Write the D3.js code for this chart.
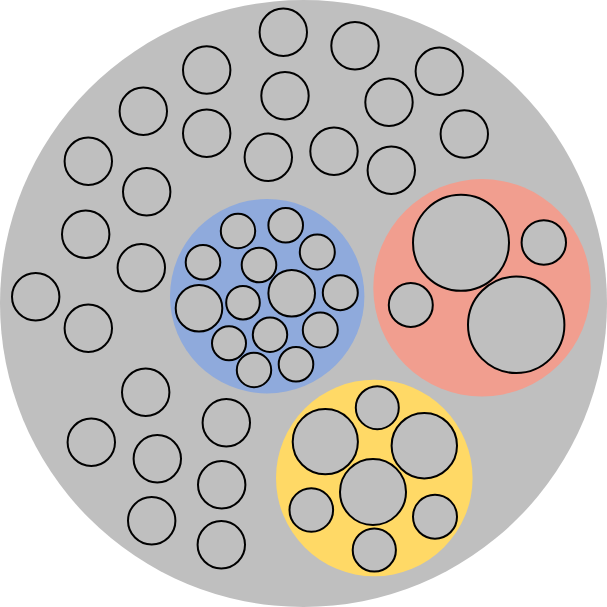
<!DOCTYPE html>
<html>
<head>
<meta charset="utf-8">
<script src="https://cdn.jsdelivr.net/npm/d3@7"></script>
<style>
html,body{margin:0;padding:0;background:#fff;}
svg{display:block;}
</style>
</head>
<body>
<script>
// Layout units (0..607 space of the original chart)
const rootCircle = {x: 303.5, y: 303.5, r: 303.5};

// Loose (ungrouped) items
const looseX = [283.3,355,206.7,439.3,285,143.3,389,206.7,464.3,88.3,334,268.3,391.3,146.7,85.7,141.3,35.7,88.3,145.7,226.3,91.3,157.3,221.7,151.7,221.3];
const looseY = [32.3,45.7,70,71.3,95.7,111.3,102.3,133.3,134,161.3,151.3,157.3,170.3,191.7,234.3,267.7,296.7,328.3,392.3,422.7,442.3,458.7,484.7,520.7,544.7];
const looseR = [23.7,23.7,23.7,23.7,23.7,23.7,23.7,23.7,23.7,23.7,23.7,23.7,23.7,23.7,23.7,23.7,23.7,23.7,23.7,23.7,23.7,23.7,23.7,23.7,23.7];

// Groups
const groupNames = ["blue", "red", "yellow"];
const groupColors = ["#8FAADC", "#F19E8F", "#FFD966"];
const groupX = [267.2, 482, 374.3];
const groupY = [296.2, 287.8, 478];
const groupR = [97.2, 108.7, 98.3];

// Group members
const blueX = [238,285.7,317.3,203,259,291.7,340.3,199,243,320.3,270,229,254,296];
const blueY = [231,225.3,252,262.3,265,293.3,292.7,308.3,302.7,330,334.7,343.3,370,364.3];
const blueR = [17.2,17.3,17.5,17.3,17.3,23.3,17.5,23.3,16.8,17.5,17.2,17,17.2,17.3];

const redX = [461,543.8,410.8,516.2];
const redY = [242.8,242.5,305,324.8];
const redR = [48,22.2,22,48.2];

const yellowX = [377.3,325.3,424.3,373,311.3,435,374.3];
const yellowY = [407.7,441.7,445.7,492,510,516.7,550];
const yellowR = [21.5,32.6,32.7,33,21.8,22,21.6];

const W = 607, H = 607;
const x = d3.scaleLinear().domain([0, 607]).range([0, W]);
const y = d3.scaleLinear().domain([0, 607]).range([0, H]);
const r = d3.scaleLinear().domain([0, 607]).range([0, W]);

const svg = d3.select("body").append("svg").attr("width", W).attr("height", H);

const leafFill = "#BFBFBF";

svg.append("circle")
  .attr("cx", x(rootCircle.x)).attr("cy", y(rootCircle.y)).attr("r", r(rootCircle.r))
  .attr("fill", leafFill);

const groups = groupNames.map((n, i) => ({name: n, color: groupColors[i], x: groupX[i], y: groupY[i], r: groupR[i]}));
svg.append("g").selectAll("circle").data(groups).join("circle")
  .attr("cx", d => x(d.x)).attr("cy", d => y(d.y)).attr("r", d => r(d.r))
  .attr("fill", d => d.color);

const zip = (X, Y, R) => X.map((v, i) => ({x: v, y: Y[i], r: R[i]}));
const leaves = [].concat(
  zip(looseX, looseY, looseR),
  zip(blueX, blueY, blueR),
  zip(redX, redY, redR),
  zip(yellowX, yellowY, yellowR)
);

svg.append("g").selectAll("circle").data(leaves).join("circle")
  .attr("cx", d => x(d.x)).attr("cy", d => y(d.y)).attr("r", d => r(d.r))
  .attr("fill", leafFill)
  .attr("stroke", "#000")
  .attr("stroke-width", 2);
</script>
</body>
</html>
